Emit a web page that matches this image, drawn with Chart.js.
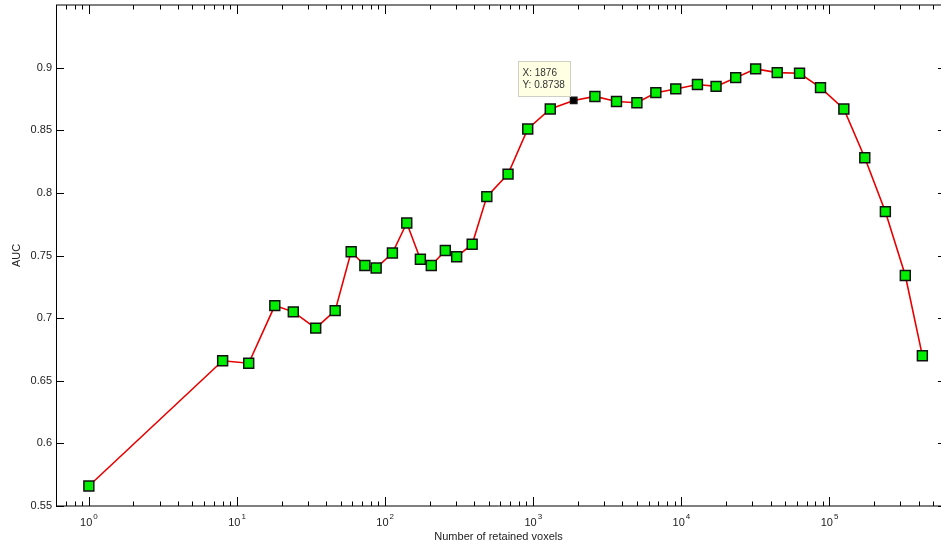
<!DOCTYPE html>
<html>
<head>
<meta charset="utf-8">
<title>AUC vs number of retained voxels</title>
<script src="https://cdn.jsdelivr.net/npm/chart.js@4.4.1/dist/chart.umd.min.js"></script>
<style>
  html, body { margin: 0; padding: 0; background: #fff; overflow: hidden; }
  #wrap { width: 941px; height: 547px; }
</style>
</head>
<body>
<div id="wrap"><canvas id="aucChart" width="941" height="547"></canvas></div>
<script>
// Values (x = number of retained voxels, y = AUC)
const voxelCounts = [1, 8, 12, 18, 24, 34, 46, 59, 73, 87, 112, 140, 173, 205, 255, 304, 387,
  486, 676, 918, 1303, 1876, 2609, 3648, 5010, 6727, 9170, 12840, 17150, 23280, 31730,
  44370, 62780, 86960, 125000, 173100, 238400, 325000, 423600];
const aucValues = [0.566, 0.666, 0.664, 0.710, 0.705, 0.692, 0.706, 0.753, 0.742, 0.740, 0.752,
  0.776, 0.747, 0.742, 0.754, 0.749, 0.759, 0.797, 0.815, 0.851, 0.867, 0.8738, 0.877, 0.873,
  0.872, 0.880, 0.883, 0.8865, 0.885, 0.892, 0.899, 0.896, 0.8955, 0.884, 0.867, 0.828, 0.785,
  0.734, 0.670];
const yTickValues = [0.55, 0.6, 0.65, 0.7, 0.75, 0.8, 0.85, 0.9];
const xDecades = [1, 10, 100, 1000, 10000, 100000];

// data tip shown on the plot
const tipIndex = voxelCounts.indexOf(1876);

const FONT = "'Liberation Sans', Arial, sans-serif";
const TEXT = '#222';

// MATLAB-like box with inward ticks and 10^n labels
// (the right edge of the box is cut off in the original picture)
const matlabAxes = {
  id: 'matlabAxes',
  beforeDatasetsDraw(chart) {
    const { ctx, chartArea: a, scales: { x, y } } = chart;
    ctx.save();
    ctx.strokeStyle = '#000';
    ctx.lineWidth = 1;
    ctx.beginPath();
    ctx.moveTo(a.left + 0.5, a.top);
    ctx.lineTo(a.left + 0.5, a.bottom);
    ctx.moveTo(a.left, a.bottom);
    ctx.lineTo(a.right, a.bottom);
    ctx.moveTo(a.left, a.top);
    ctx.lineTo(a.right, a.top);

    // x ticks, major on decades, minor on 2..9
    for (let e = -1; e <= 5; e++) {
      for (let m = 1; m <= 9; m++) {
        const v = m * Math.pow(10, e);
        if (v < x.min || v > x.max) continue;
        const px = Math.round(x.getPixelForValue(v)) + 0.5;
        const len = m === 1 ? 9 : 4.5;
        ctx.moveTo(px, a.bottom);
        ctx.lineTo(px, a.bottom - len);
        ctx.moveTo(px, a.top);
        ctx.lineTo(px, a.top + len);
      }
    }
    // y ticks, both sides
    yTickValues.forEach(v => {
      const py = Math.round(y.getPixelForValue(v)) + 0.5;
      ctx.moveTo(a.left, py);
      ctx.lineTo(a.left + 8, py);
      ctx.moveTo(a.right, py);
      ctx.lineTo(a.right - 3, py);
    });
    ctx.stroke();

    // x tick labels as 10 with a raised exponent
    ctx.fillStyle = TEXT;
    ctx.textBaseline = 'alphabetic';
    ctx.textAlign = 'left';
    xDecades.forEach(d => {
      const px = x.getPixelForValue(d);
      const exp = String(Math.round(Math.log10(d)));
      ctx.font = '11px ' + FONT;
      const w1 = ctx.measureText('10').width;
      ctx.font = '8px ' + FONT;
      const w2 = ctx.measureText(exp).width;
      const left = px - (w1 + w2 + 1) / 2;
      ctx.font = '11px ' + FONT;
      ctx.fillText('10', left, a.bottom + 20);
      ctx.font = '8px ' + FONT;
      ctx.fillText(exp, left + w1 + 1, a.bottom + 13);
    });
    ctx.restore();
  },
  afterDatasetsDraw(chart) {
    // data tip box next to the highlighted point
    const pt = chart.getDatasetMeta(0).data[tipIndex];
    if (!pt) return;
    const { ctx } = chart;
    const w = 52, h = 35;
    const bx = Math.round(pt.x - 4 - w) + 0.5;
    const by = Math.round(pt.y - 4 - h) + 0.5;
    ctx.save();
    ctx.fillStyle = '#ffffe4';
    ctx.strokeStyle = '#cfcfc4';
    ctx.lineWidth = 1;
    ctx.fillRect(bx, by, w, h);
    ctx.strokeRect(bx, by, w, h);
    ctx.fillStyle = '#333';
    ctx.font = '10px ' + FONT;
    ctx.textAlign = 'left';
    ctx.textBaseline = 'middle';
    ctx.fillText('X: ' + voxelCounts[tipIndex], bx + 4, by + 11.5);
    ctx.fillText('Y: ' + aucValues[tipIndex].toFixed(4), bx + 4, by + 23.5);
    ctx.restore();
  }
};

new Chart(document.getElementById('aucChart'), {
  type: 'line',
  data: {
    datasets: [{
      label: 'AUC',
      data: voxelCounts.map((v, i) => ({ x: v, y: aucValues[i] })),
      borderColor: '#e80000',
      borderWidth: 1.6,
      tension: 0,
      pointStyle: 'rect',
      pointRadius: c => c.dataIndex === tipIndex ? 4.5 : 7,
      pointBackgroundColor: c => c.dataIndex === tipIndex ? '#000' : '#00ee00',
      pointBorderColor: '#111',
      pointBorderWidth: 1.5
    }]
  },
  plugins: [matlabAxes],
  options: {
    responsive: false,
    animation: false,
    devicePixelRatio: 1,
    layout: { autoPadding: false, padding: { top: 5, right: 0, bottom: 0, left: 0 } },
    plugins: {
      legend: { display: false },
      tooltip: { enabled: false }
    },
    scales: {
      x: {
        type: 'logarithmic',
        min: 0.618,
        max: 5.66e5,
        ticks: { display: false },
        grid: { display: false, drawTicks: false },
        border: { display: false },
        title: {
          display: true,
          text: 'Number of retained voxels',
          color: TEXT,
          font: { family: FONT, size: 11 },
          padding: { top: 0, bottom: 3 }
        },
        afterFit: s => { s.height = 41; s.paddingLeft = 0; s.paddingRight = 0; }
      },
      y: {
        type: 'linear',
        min: 0.55,
        max: 0.95,
        afterBuildTicks: s => { s.ticks = yTickValues.map(v => ({ value: v })); },
        ticks: {
          color: TEXT,
          padding: 4,
          font: { family: FONT, size: 11 },
          callback: v => String(Math.round(v * 100) / 100)
        },
        grid: { display: false, drawTicks: false },
        border: { display: false },
        title: {
          display: true,
          text: 'AUC',
          color: TEXT,
          font: { family: FONT, size: 11 },
          padding: { top: 10 }
        },
        afterFit: s => { s.width = 56; s.paddingTop = 0; s.paddingBottom = 0; }
      }
    }
  }
});
</script>
</body>
</html>
